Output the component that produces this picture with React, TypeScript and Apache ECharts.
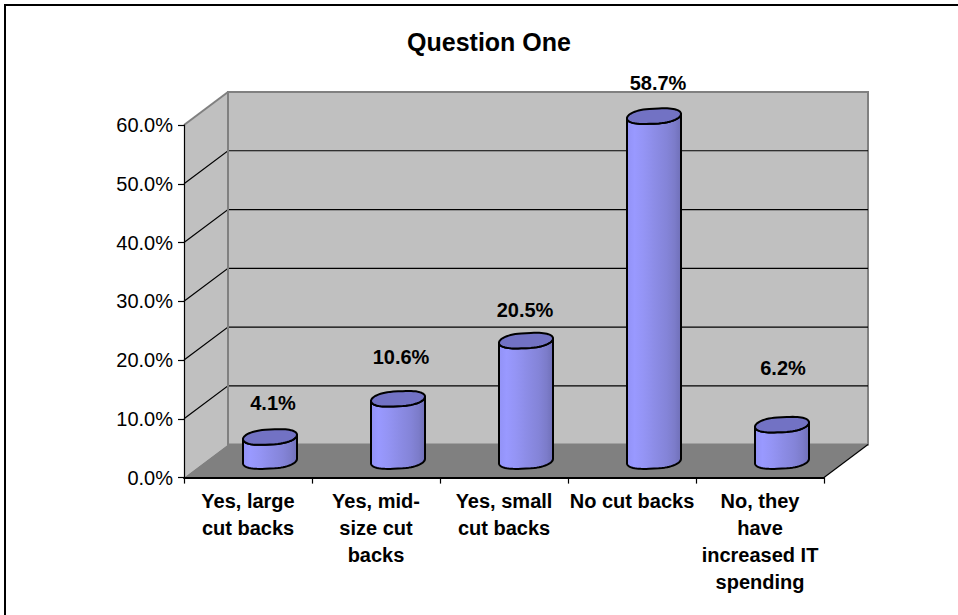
import React, { useEffect, useRef } from "react";
import * as echarts from "echarts";

const categories = [
  "Yes, large\ncut backs",
  "Yes, mid-\nsize cut\nbacks",
  "Yes, small\ncut backs",
  "No cut backs",
  "No, they\nhave\nincreased IT\nspending",
];
const shares = [4.1, 10.6, 20.5, 58.7, 6.2];
const valueLabels = ["4.1%", "10.6%", "20.5%", "58.7%", "6.2%"];
const gridValues = [0, 10, 20, 30, 40, 50, 60];
// Hand-placed data labels, relative to the top of each column.
const labelShiftX = [3, 3, -1, 4, 1];
const labelShiftY = [-34, -42, -31, -33, -57];

const FONT = "Liberation Sans, Arial, sans-serif";
const DEPTH_X = 44;
const DEPTH_Y = -33;

function drawRoom(params: any, api: any) {
  const half = api.size([1, 0])[0] / 2;
  const left = api.coord([0, 0])[0] - half;
  const right = api.coord([categories.length - 1, 0])[0] + half;
  const y0 = api.coord([0, 0])[1];
  const yTop = api.coord([0, 60])[1];
  const grey = "#808080";
  const children: any[] = [
    {
      type: "polygon",
      shape: { points: [[left, y0], [left + DEPTH_X, y0 + DEPTH_Y], [left + DEPTH_X, yTop + DEPTH_Y], [left, yTop]] },
      style: { fill: "#c0c0c0", stroke: "none" },
    },
    {
      type: "rect",
      shape: { x: left + DEPTH_X, y: yTop + DEPTH_Y, width: right - left, height: y0 - yTop },
      style: { fill: "#c0c0c0", stroke: grey, lineWidth: 2 },
    },
    {
      type: "polygon",
      shape: { points: [[left, y0], [left + DEPTH_X, y0 + DEPTH_Y], [right + DEPTH_X, y0 + DEPTH_Y], [right, y0]] },
      style: { fill: grey, stroke: "none" },
    },
    {
      type: "line",
      shape: { x1: left, y1: yTop, x2: left + DEPTH_X, y2: yTop + DEPTH_Y },
      style: { stroke: grey, lineWidth: 2 },
    },
    {
      type: "line",
      shape: { x1: right, y1: y0, x2: right + DEPTH_X, y2: y0 + DEPTH_Y },
      style: { stroke: "#000", lineWidth: 1.2 },
    },
  ];
  gridValues.slice(1, -1).forEach((v) => {
    const y = api.coord([0, v])[1];
    children.push({
      type: "polyline",
      shape: { points: [[left, y], [left + DEPTH_X, y + DEPTH_Y], [right + DEPTH_X, y + DEPTH_Y]] },
      style: { stroke: "#000", fill: "none", lineWidth: 1.2 },
    });
  });
  children.push({
    type: "line",
    shape: { x1: left + DEPTH_X, y1: yTop + DEPTH_Y, x2: left + DEPTH_X, y2: y0 + DEPTH_Y },
    style: { stroke: grey, lineWidth: 2 },
  });
  return { type: "group", children };
}

// Point on the slightly tilted ellipse that caps a column.
function rimPoint(cx: number, cy: number, t: number): number[] {
  const c = Math.cos(t);
  const s = Math.sin(t);
  const bluntX = Math.sign(c) * Math.pow(Math.abs(c), 0.75);
  return [cx + 27 * bluntX, cy - 7.5 * s - 2.2 * c];
}

function drawColumn(params: any, api: any) {
  const i = api.value(0);
  const v = api.value(1);
  const cx = api.coord([i, 0])[0] + DEPTH_X / 2;
  const base = api.coord([i, 0])[1] + DEPTH_Y / 2;
  const top = api.coord([i, v])[1] + DEPTH_Y / 2;
  const steps = 32;

  const body: number[][] = [];
  for (let k = 0; k <= steps; k++) {
    body.push(rimPoint(cx, base, Math.PI + (k / steps) * Math.PI));
  }
  for (let k = 0; k <= steps; k++) {
    body.push(rimPoint(cx, top, 2 * Math.PI - (k / steps) * Math.PI));
  }
  const cap: number[][] = [];
  for (let k = 0; k < steps * 2; k++) {
    cap.push(rimPoint(cx, top, (k / (steps * 2)) * 2 * Math.PI));
  }
  const shade = new echarts.graphic.LinearGradient(0, 0, 1, 0, [
    { offset: 0, color: "#9292f6" },
    { offset: 0.14, color: "#9999ff" },
    { offset: 0.32, color: "#9494f4" },
    { offset: 0.52, color: "#8c8ce6" },
    { offset: 0.74, color: "#8484d8" },
    { offset: 0.88, color: "#7c7cca" },
    { offset: 1, color: "#7070b8" },
  ]);
  return {
    type: "group",
    children: [
      {
        type: "polygon",
        shape: { points: body },
        style: { fill: shade, stroke: "#000", lineWidth: 2, lineJoin: "round" },
      },
      {
        type: "polygon",
        shape: { points: cap },
        style: { fill: "#7272c4", stroke: "#000", lineWidth: 2, lineJoin: "round" },
      },
      {
        type: "text",
        style: {
          x: cx + labelShiftX[i],
          y: top + labelShiftY[i],
          text: valueLabels[i],
          font: `bold 20px ${FONT}`,
          fill: "#000",
          align: "center",
          verticalAlign: "middle",
        },
      },
    ],
  };
}

export default function App() {
  const ref = useRef<HTMLDivElement>(null);
  useEffect(() => {
    const chart = echarts.init(ref.current!, undefined, { renderer: "svg" });
    chart.setOption({
      animation: false,
      backgroundColor: "#fff",
      title: {
        text: "Question One",
        left: 484,
        top: 24,
        textAlign: "center",
        textStyle: { fontFamily: FONT, fontSize: 25, fontWeight: "bold", color: "#000" },
      },
      graphic: [
        {
          type: "polyline",
          shape: { points: [[5, 615], [5, 5], [958, 5]] },
          style: { stroke: "#000", fill: "none", lineWidth: 2 },
        },
      ],
      grid: { left: 184, top: 125, width: 640, height: 352.6 },
      xAxis: {
        type: "category",
        data: categories,
        z: 5,
        axisLine: { lineStyle: { color: "#000", width: 2 } },
        axisTick: { show: true, length: 6, lineStyle: { color: "#000", width: 1.2 } },
        axisLabel: {
          interval: 0,
          margin: 10,
          fontFamily: FONT,
          fontSize: 20,
          fontWeight: "bold",
          color: "#000",
          lineHeight: 27,
          verticalAlign: "top",
        },
      },
      yAxis: {
        type: "value",
        min: 0,
        max: 60,
        interval: 10,
        z: 5,
        splitLine: { show: false },
        axisLine: { show: true, lineStyle: { color: "#000", width: 1.2 } },
        axisTick: { show: true, length: 6, lineStyle: { color: "#000", width: 1.2 } },
        axisLabel: {
          margin: 11,
          fontFamily: FONT,
          fontSize: 20,
          color: "#000",
          formatter: (v: number) => `${v.toFixed(1)}%`,
        },
      },
      series: [
        {
          type: "custom",
          renderItem: drawRoom,
          data: [[0, 60]],
          encode: { x: 0, y: 1 },
          clip: false,
          silent: true,
          z: 1,
        },
        {
          type: "custom",
          renderItem: drawColumn,
          data: shares.map((v, i) => [i, v]),
          encode: { x: 0, y: 1 },
          clip: false,
          z: 3,
        },
      ],
    });
    return () => chart.dispose();
  }, []);
  return <div ref={ref} style={{ position: "absolute", left: 0, top: 0, width: 958, height: 615 }} />;
}
